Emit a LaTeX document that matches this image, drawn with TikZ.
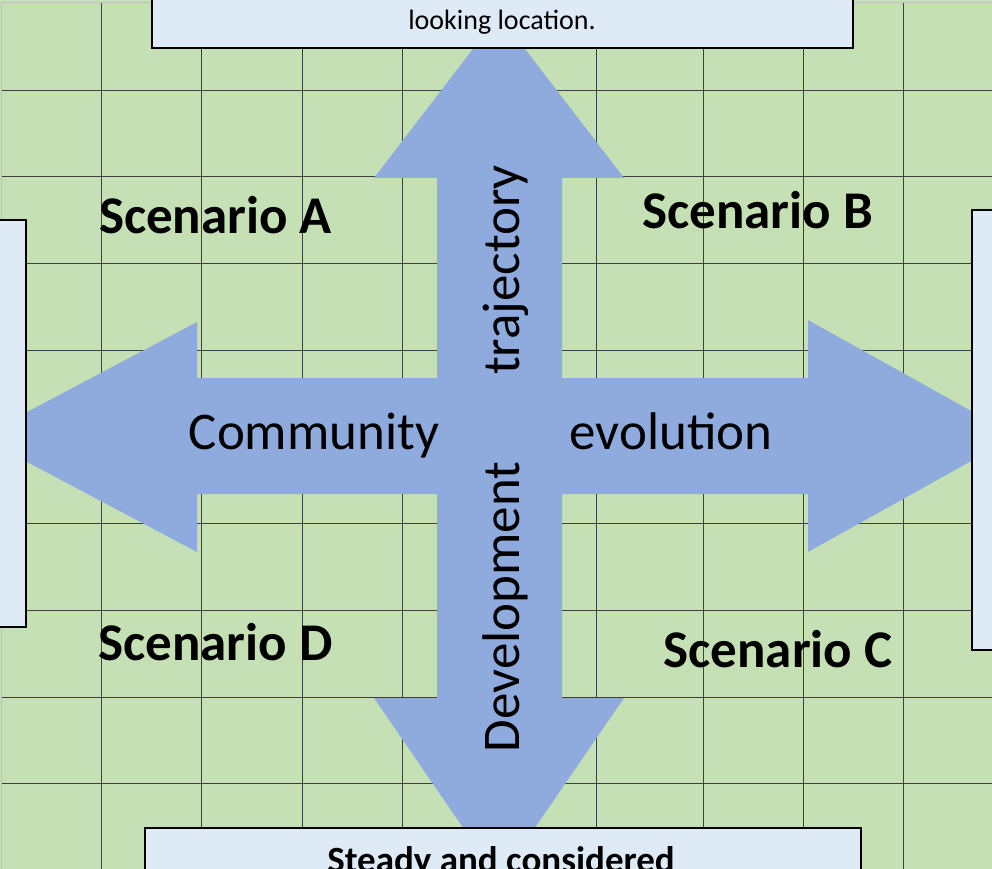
\documentclass[tikz,border=0pt]{standalone}
\usepackage{fontspec}
\setmainfont{Carlito}
\usetikzlibrary{positioning}
\definecolor{cellgreen}{HTML}{C5E0B4}
\definecolor{arrowblue}{HTML}{8FAADC}
\definecolor{boxblue}{HTML}{DEEBF7}

\begin{document}
\begin{tikzpicture}[x=1pt,y=-1pt,
    infobox/.style={draw=black, line width=1.8pt, fill=boxblue, inner sep=0pt},
    scenario/.style={font=\fontsize{53}{60}\selectfont\bfseries, anchor=base},
    axislabel/.style={font=\fontsize{53}{60}\selectfont, anchor=base}]
\useasboundingbox (0,0) rectangle (992,869);
\clip (0,0) rectangle (992,869);

% Cells
\fill[cellgreen] (0,0) rectangle (992,869);
\draw[gray!50, line width=1pt] (1.5,869) -- (1.5,3) -- (992,3);
\foreach \x in {101,201,302,402,596,703,803,903}
    \draw[black!75, line width=0.8pt] (\x,3) -- (\x,869);
\foreach \y in {90,176,263,350,437,523,610,697,783}
    \draw[black!75, line width=0.8pt] (1.5,\y) -- (992,\y);

% Quad arrow
\fill[arrowblue] (499,15) -- (624,178) -- (562,178) -- (562,378) -- (808,378)
    -- (808,320) -- (1016,436) -- (808,552) -- (808,494) -- (562,494)
    -- (562,698) -- (624,698) -- (499,880) -- (374,698) -- (437,698)
    -- (437,494) -- (197,494) -- (197,552) -- (-20,437) -- (197,322)
    -- (197,378) -- (437,378) -- (437,178) -- (374,178) -- cycle;

% Axis labels
\node[axislabel] (community) at (314,449) {Community};
\node[axislabel] (evolution) at (671,449) {evolution};
\node[axislabel, rotate=90] (trajectory) at (519,270) {trajectory};
\node[axislabel, rotate=90] (development) at (519,607) {Development};

% Scenarios
\node[scenario] (scenA) at (215.5,233) {Scenario A};
\node[scenario] (scenB) at (757.5,228) {Scenario B};
\node[scenario] (scenD) at (215.5,660) {Scenario D};
\node[scenario] (scenC) at (778,667) {Scenario C};

% Boxes round the edge
\node[infobox, minimum width=701pt, minimum height=120pt, anchor=south] (topbox) at (502.5,49) {};
\node[infobox, minimum width=716pt, minimum height=120pt, anchor=north] (bottombox) at (503,827) {};
\node[infobox, minimum width=100pt, minimum height=407pt, anchor=east] (leftbox) at (27,423.5) {};
\node[infobox, minimum width=100pt, minimum height=440pt, anchor=west] (rightbox) at (971,430) {};
\node[font=\fontsize{28}{34}\selectfont, anchor=base] (toptext) at (502,30) {looking location.};
\node[font=\fontsize{37}{44}\selectfont\bfseries, anchor=base] (bottomtext) at (501,872) {Steady and considered};
\end{tikzpicture}
\end{document}
